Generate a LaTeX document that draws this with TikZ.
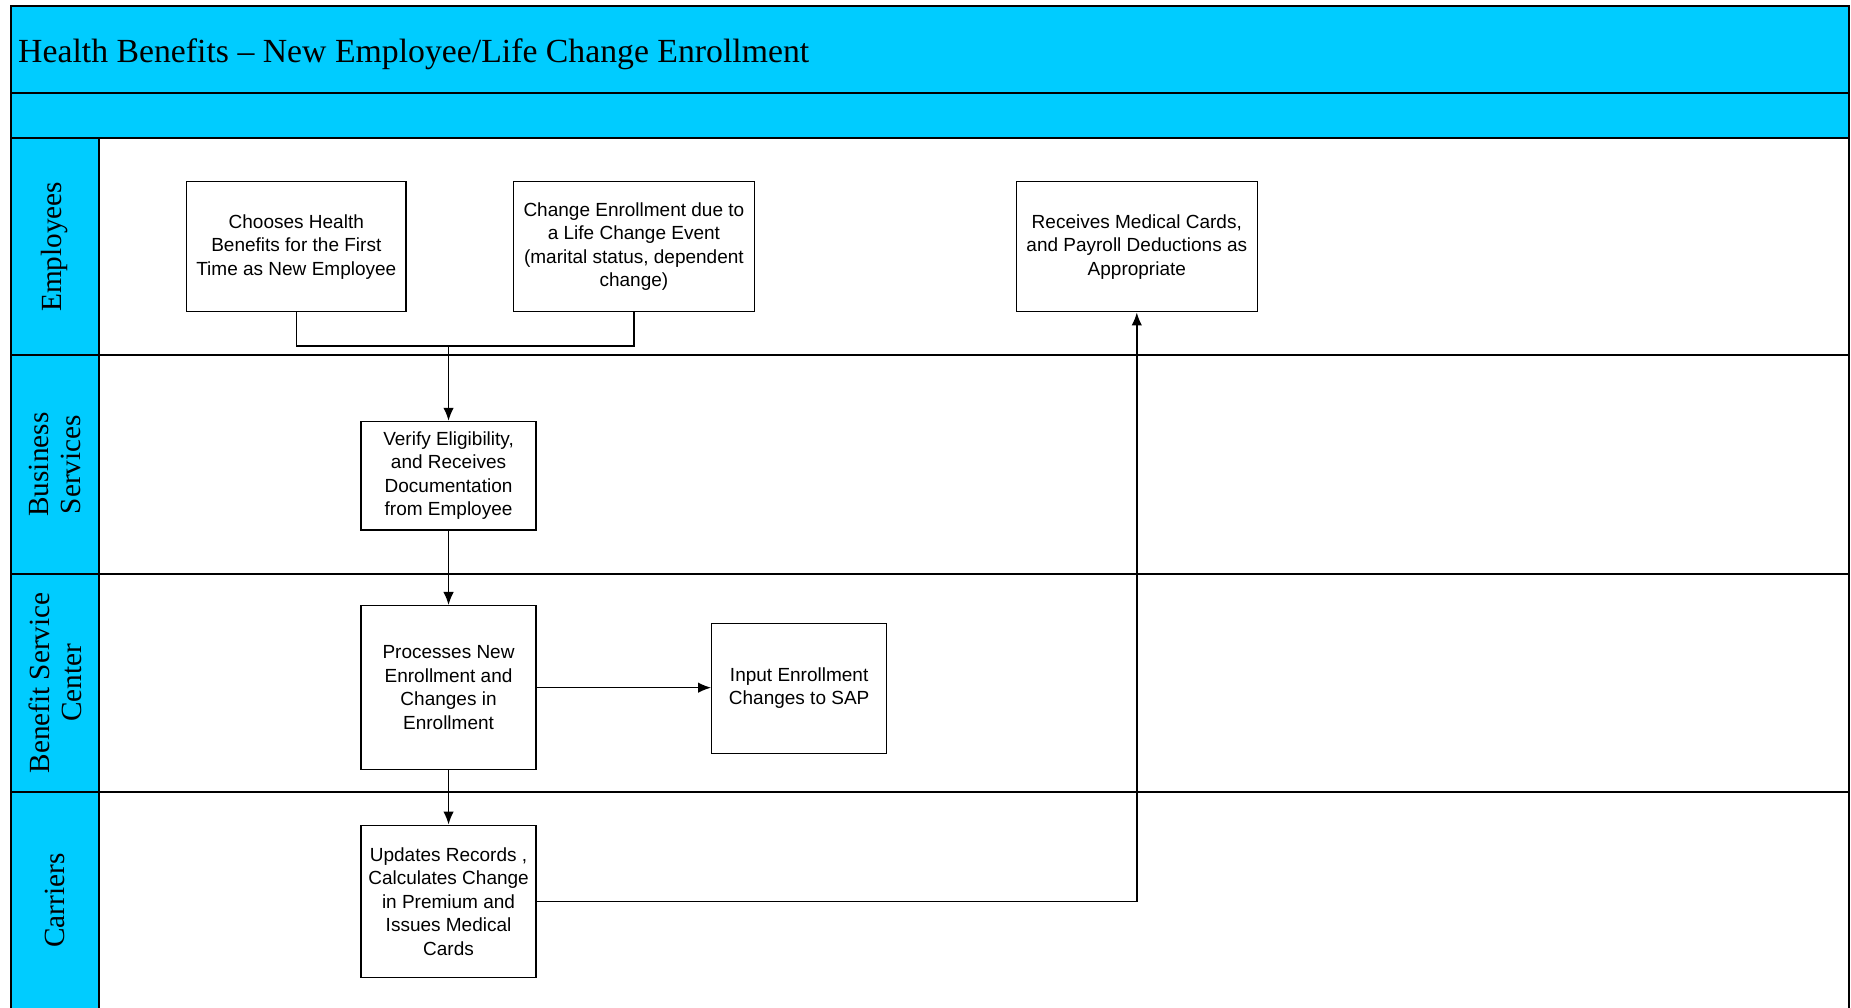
\documentclass[tikz,border=0pt]{standalone}
\usepackage{fontspec}
\setmainfont{Liberation Serif}
\newfontfamily\boxfont{Liberation Sans}
\usetikzlibrary{arrows.meta}
\definecolor{lanecyan}{HTML}{00CCFF}

\begin{document}
\begin{tikzpicture}[x=0.4pt,y=-0.4pt,
  frame/.style={draw=black,line width=0.75pt},
  stepbox/.style={draw=black,line width=0.55pt,fill=white,align=center,
    font=\boxfont\fontsize{7.6}{9.4}\selectfont,inner sep=0pt},
  flow/.style={line width=0.55pt,-{Latex[length=5.2pt,width=4.2pt]}},
  plain/.style={line width=0.55pt},
  lanelabel/.style={rotate=90,align=center,font=\fontsize{11.7}{12.8}\selectfont}]

\useasboundingbox (0,0) rectangle (1851,1007);

% header bars and lane label column
\fill[lanecyan] (10.6,5.9) rectangle (1848.6,138);
\fill[lanecyan] (10.6,138) rectangle (99.2,1010);

% pool frame and lane dividers
\draw[frame] (10.6,1010) -- (10.6,5.9) -- (1848.6,5.9) -- (1848.6,1010);
\foreach \yy in {93.3,138,355.3,573.7,792.1}
  \draw[frame] (10.6,\yy) -- (1848.6,\yy);
\draw[frame] (99.2,138) -- (99.2,1010);

% title
\node[anchor=west,inner sep=0pt,font=\fontsize{13.5}{16}\selectfont] (title) at (17.7,54)
  {Health Benefits -- New Employee/Life Change Enrollment};

% lane labels
\node[lanelabel] (lEmp) at (55,246.7) {Employees};
\node[lanelabel] (lBus) at (55,464.5) {Business\\Services};
\node[lanelabel] (lBsc) at (55,682.9) {Benefit Service\\Center};
\node[lanelabel] (lCar) at (55,900.7) {Carriers};

% process steps
\node[stepbox,minimum width=87.8pt,minimum height=52pt] (choose) at (296.3,246.8)
  {Chooses Health\\Benefits for the First\\Time as New Employee};
\node[stepbox,minimum width=96.3pt,minimum height=52pt] (change) at (633.9,246.8)
  {Change Enrollment due to\\a Life Change Event\\(marital status, dependent\\change)};
\node[stepbox,minimum width=96.3pt,minimum height=52pt] (receive) at (1136.8,246.8)
  {Receives Medical Cards,\\and Payroll Deductions as\\Appropriate};
\node[stepbox,minimum width=69.9pt,minimum height=43.4pt] (verify) at (448.55,475.7)
  {Verify Eligibility,\\and Receives\\Documentation\\from Employee};
\node[stepbox,minimum width=69.9pt,minimum height=65.6pt] (process) at (448.55,687.65)
  {Processes New\\Enrollment and\\Changes in\\Enrollment};
\node[stepbox,minimum width=69.9pt,minimum height=52pt] (sap) at (799.15,688.25)
  {Input Enrollment\\Changes to SAP};
\node[stepbox,minimum width=69.9pt,minimum height=60.9pt] (carrier) at (448.55,901.35)
  {Updates Records ,\\Calculates Change\\in Premium and\\Issues Medical\\Cards};

% connectors
\coordinate (join) at (448.55,345.9);
\draw[plain] (choose.south) |- (join) -| (change.south);
\draw[flow] (join) -- (verify.north);
\draw[flow] (verify.south) -- (process.north);
\draw[flow] (process.east) -- (process.east -| sap.west);
\draw[flow] (process.south) -- (carrier.north);
\draw[flow] (carrier.east) -| (receive.south);

\end{tikzpicture}
\end{document}
